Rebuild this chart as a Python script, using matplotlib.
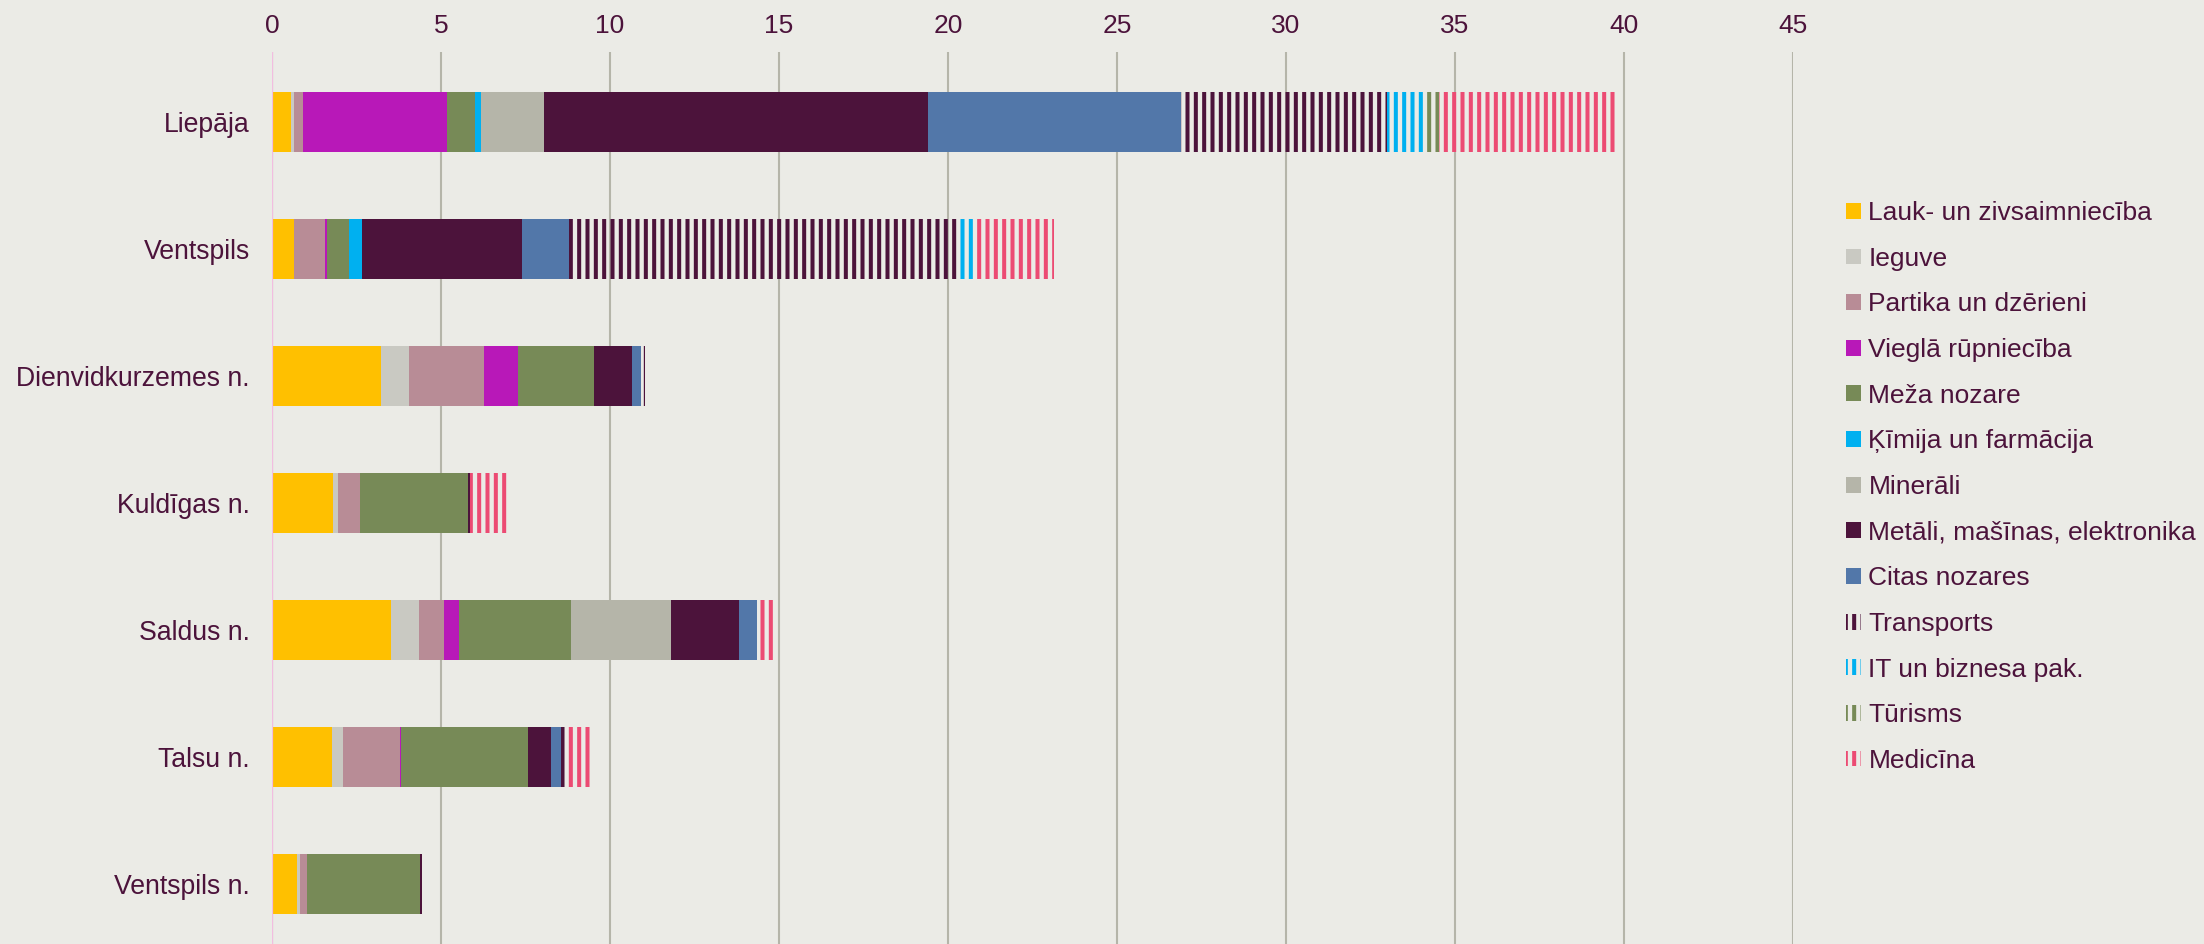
import matplotlib.pyplot as plt
from matplotlib.patches import Patch

plt.rcParams['font.family'] = ['Liberation Sans', 'DejaVu Sans']
plt.rcParams['hatch.linewidth'] = 2.9

# Regions (top to bottom) and value per sector
regions = ['Liepāja', 'Ventspils', 'Dienvidkurzemes n.', 'Kuldīgas n.',
           'Saldus n.', 'Talsu n.', 'Ventspils n.']

lauk = [0.57, 0.64, 3.22, 1.80, 3.52, 1.78, 0.74]
ieguve = [0.07, 0.02, 0.83, 0.16, 0.83, 0.32, 0.08]
partika = [0.27, 0.90, 2.23, 0.63, 0.74, 1.69, 0.21]
vieglaa = [4.27, 0.06, 1.01, 0.00, 0.45, 0.03, 0.00]
meza = [0.83, 0.67, 2.24, 3.20, 3.31, 3.75, 3.35]
kimija = [0.17, 0.37, 0.00, 0.00, 0.00, 0.00, 0.00]
minerali = [1.88, 0.00, 0.00, 0.00, 2.96, 0.00, 0.00]
metali = [11.34, 4.74, 1.12, 0.06, 2.00, 0.68, 0.06]
citas = [7.50, 1.39, 0.28, 0.00, 0.55, 0.30, 0.00]
transports = [6.09, 11.51, 0.11, 0.00, 0.00, 0.15, 0.00]
it_bizness = [1.08, 0.52, 0.00, 0.00, 0.00, 0.00, 0.00]
turisms = [0.47, 0.00, 0.00, 0.00, 0.00, 0.00, 0.00]
medicina = [5.19, 2.31, 0.00, 1.19, 0.48, 0.71, 0.00]

series = [
    ('Lauk- un zivsaimniecība', lauk, '#FFC000', False),
    ('Ieguve', ieguve, '#C9C9C2', False),
    ('Partika un dzērieni', partika, '#B88C96', False),
    ('Vieglā rūpniecība', vieglaa, '#B818B8', False),
    ('Meža nozare', meza, '#778A57', False),
    ('Ķīmija un farmācija', kimija, '#00B0F0', False),
    ('Minerāli', minerali, '#B5B5A9', False),
    ('Metāli, mašīnas, elektronika', metali, '#4C133B', False),
    ('Citas nozares', citas, '#5277A9', False),
    ('Transports', transports, '#4C133B', True),
    ('IT un biznesa pak.', it_bizness, '#00B0F0', True),
    ('Tūrisms', turisms, '#778A57', True),
    ('Medicīna', medicina, '#EC4B73', True),
]

bg = '#EBEBE6'
txt = '#4C133B'

fig = plt.figure(figsize=(22.04, 9.44), dpi=100, facecolor=bg)
ax = fig.add_axes([272 / 2204, 0, (1793 - 272) / 2204, 1 - 52 / 944])
ax.set_facecolor(bg)

y = list(range(len(regions)))
left = [0.0] * len(regions)
handles = []
for name, vals, color, striped in series:
    if striped:
        ax.barh(y, vals, left=left, height=0.47, color='none',
                edgecolor=color, hatch='||', linewidth=0)
        handles.append(Patch(facecolor='none', edgecolor=color, hatch='||',
                             linewidth=0, label=name))
    else:
        ax.barh(y, vals, left=left, height=0.47, color=color, linewidth=0)
        handles.append(Patch(facecolor=color, linewidth=0, label=name))
    left = [l + v for l, v in zip(left, vals)]

ax.set_xlim(0, 45)
ax.set_ylim(6.47, -0.55)
ax.set_xticks(range(0, 50, 5))
ax.set_yticks(y)
ax.set_yticklabels(regions)
ax.xaxis.tick_top()
ax.tick_params(axis='x', length=0, pad=10, labelsize=19, labelcolor=txt)
ax.tick_params(axis='y', length=0, pad=16, labelsize=19.2, labelcolor=txt)
ax.grid(axis='x', color='#B5B5A9', linewidth=1.5)
ax.set_axisbelow(True)
for s in ax.spines.values():
    s.set_visible(False)
ax.axvline(0, color='#F2BDE0', linewidth=1.6, zorder=1)

leg = fig.legend(handles=handles, loc='center left',
                 bbox_to_anchor=(1846 / 2204, 1 - 487 / 944),
                 frameon=False, fontsize=19, labelcolor=txt,
                 handlelength=0.55, handleheight=0.55, handletextpad=0.3,
                 labelspacing=0.82, borderpad=0, borderaxespad=0)

fig.savefig('out.png', dpi=100, facecolor=bg)
